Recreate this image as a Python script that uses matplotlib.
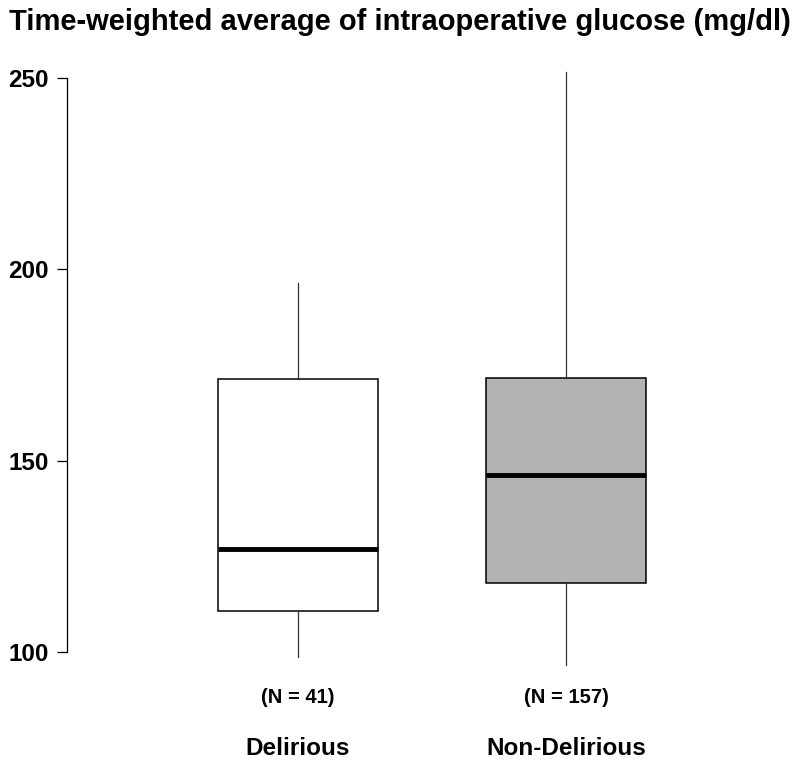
import matplotlib
matplotlib.use('Agg')
import matplotlib.pyplot as plt
from matplotlib import font_manager

# valores
grupos = ["Delirious", "Non-Delirious"]
n_rotulos = ["(N = 41)", "(N = 157)"]
whis_baixo = [98.7, 96.6]
q1 = [110.7, 118.0]
mediana = [126.9, 146.2]
q3 = [171.3, 171.6]
whis_alto = [196.4, 251.6]
cores = ["white", "#b3b3b3"]
yticks = [100, 150, 200, 250]

nomes = {f.name for f in font_manager.fontManager.ttflist}
fonte = "Liberation Sans Narrow" if "Liberation Sans Narrow" in nomes else "Liberation Sans"
plt.rcParams['font.family'] = [fonte, 'DejaVu Sans']

fig = plt.figure(figsize=(8, 7.64), dpi=100)
ax = fig.add_axes([67 / 800, 89 / 764, 733 / 800, 620 / 764])

stats = []
for i in range(len(grupos)):
    stats.append(dict(med=mediana[i], q1=q1[i], q3=q3[i],
                      whislo=whis_baixo[i], whishi=whis_alto[i], fliers=[]))

bp = ax.bxp(stats, positions=[1, 2], widths=0.597, patch_artist=True,
            showcaps=False, showfliers=False,
            boxprops=dict(linewidth=1.1, edgecolor='black'),
            whiskerprops=dict(linewidth=0.9, color='#333333'),
            medianprops=dict(linewidth=3.5, color='black'))
for caixa, c in zip(bp['boxes'], cores):
    caixa.set_facecolor(c)

ax.set_xlim(0.138, 2.873)
ax.set_ylim(94, 256)
for s in ['top', 'right', 'bottom']:
    ax.spines[s].set_visible(False)
ax.spines['left'].set_bounds(100, 250)
ax.spines['left'].set_linewidth(0.9)
ax.set_xticks([])
ax.set_yticks(yticks)
ax.set_yticklabels([str(t) for t in yticks], fontsize=17.5, fontweight='bold')
ax.tick_params(axis='y', length=7.2, width=0.9, pad=6)

for i in range(len(grupos)):
    ax.text(i + 1, -0.0355, n_rotulos[i], transform=ax.get_xaxis_transform(),
            ha='center', va='center', fontsize=14.5, fontweight='bold')
    ax.text(i + 1, -0.118, grupos[i], transform=ax.get_xaxis_transform(),
            ha='center', va='center', fontsize=17.5, fontweight='bold')

fig.text(0.5, 1 - 22 / 764, "Time-weighted average of intraoperative glucose (mg/dl)",
         ha='center', va='center', fontsize=21, fontweight='bold')

fig.savefig("out.png", dpi=100)
